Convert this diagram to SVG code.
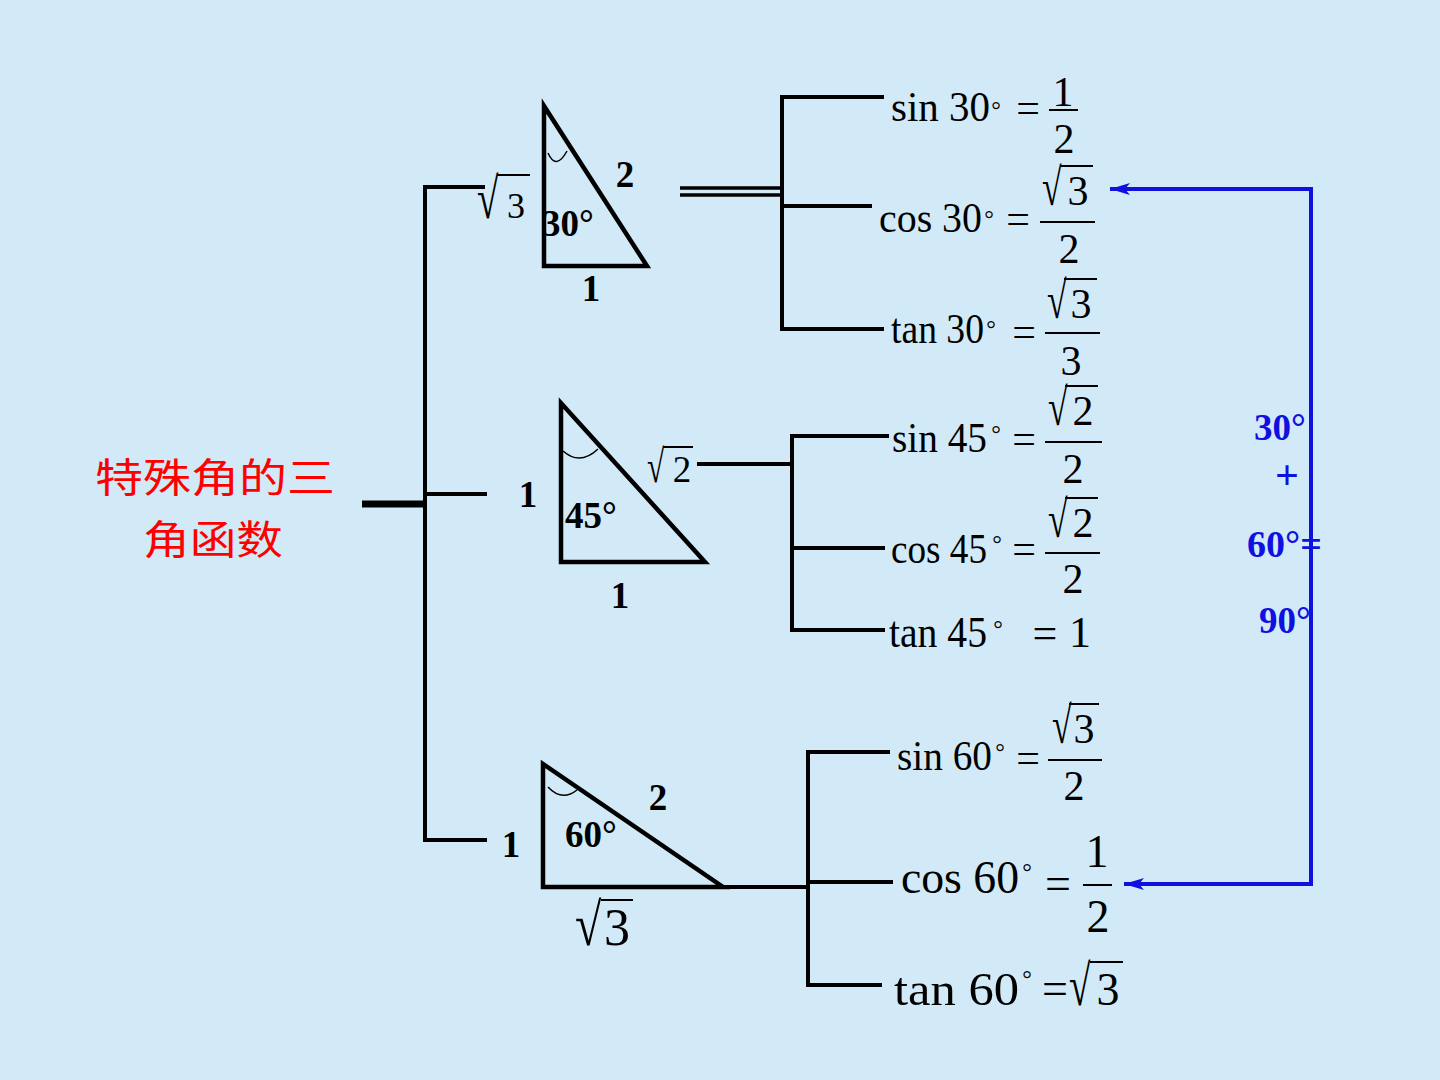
<svg xmlns="http://www.w3.org/2000/svg" width="1440" height="1080" viewBox="0 0 1440 1080">
<style>
.ln{stroke:#000;stroke-width:4;fill:none}
.tri{stroke:#000;stroke-width:4.5;fill:none;stroke-linejoin:miter}
.arc{stroke:#000;stroke-width:1.5;fill:none}
.bar{stroke:#000;stroke-width:2}
.t{font-family:"Liberation Serif","Times New Roman",serif;fill:#000;font-size:42px}
.m{text-anchor:middle}
.bd{font-weight:bold;font-size:37px}
.dg{font-size:24px;text-anchor:middle}
.bl{font-family:"Liberation Serif","Times New Roman",serif;fill:#1010e0;font-weight:bold;font-size:37px}
.cn{font-family:"Noto Sans CJK SC","Noto Sans",sans-serif;fill:#ff0000;font-size:40px;font-weight:normal}
.blue{stroke:#1010e0;stroke-width:4;fill:none}
</style>
<defs>
<marker id="ah" markerWidth="22" markerHeight="12" refX="20" refY="6" orient="auto" markerUnits="userSpaceOnUse">
<path d="M0,0 L20,6 L0,12 L5,6 z" fill="#1010e0"/>
</marker>
</defs>
<rect width="1440" height="1080" fill="#d2eaf7"/>

<g id="title">
<text class="cn" x="95" y="492" textLength="240" lengthAdjust="spacingAndGlyphs">特殊角的三</text>
<text class="cn" x="143" y="554" textLength="140" lengthAdjust="spacingAndGlyphs">角函数</text>
</g>

<g id="connectors">
<path class="ln" d="M362,504 H427" style="stroke-width:7"/>
<path class="ln" d="M485,187 H425 V840 H487 M425,494 H487"/>
<path class="ln" d="M680,188 H782 M680,195 H782" style="stroke-width:3.5"/>
<path class="ln" d="M884,97 H782 V329 H884 M782,206 H872"/>
<path class="ln" d="M697,464 H792 M889,436 H792 V630 H885 M792,548 H885"/>
<path class="ln" d="M723,887 H808 M890,752 H808 V985 H882 M808,882 H893"/>
<path class="blue" d="M1311,189 V884"/>
<path class="blue" d="M1313,189 H1110" marker-end="url(#ah)"/>
<path class="blue" d="M1313,884 H1124" marker-end="url(#ah)"/>
</g>

<g id="tri30">
<polygon class="tri" points="544,106 544,266 647,266"/>
<path class="arc" d="M548,153 Q556,171 567,151"/>
<text class="t bd m" x="625" y="187">2</text>
<text class="t bd" x="542" y="236">30°</text>
<text class="t bd m" x="591" y="301">1</text>
<text class="t" style="font-size:46px" transform="translate(477,218) scale(0.85,1.25)">√</text>
<text class="t m" x="516" y="218" style="font-size:36px">3</text>
<line class="bar" x1="497" y1="175" x2="530" y2="175"/>
</g>

<g id="tri45">
<polygon class="tri" points="561,403 561,562 705,562"/>
<path class="arc" d="M563,451 Q580,466 598,449"/>
<text class="t bd m" x="528" y="507">1</text>
<text class="t bd" x="565" y="528">45°</text>
<text class="t bd m" x="620" y="608">1</text>
<text class="t" style="font-size:37px" transform="translate(647,482) scale(0.85,1.25)">√</text>
<text class="t m" x="682" y="482" style="font-size:37px">2</text>
<line class="bar" x1="663" y1="447" x2="693" y2="447"/>
</g>

<g id="tri60">
<polygon class="tri" points="543,764 543,887 723,887"/>
<path class="arc" d="M548,787 Q562,802 577,790"/>
<text class="t bd m" x="658" y="810">2</text>
<text class="t bd" x="565" y="847">60°</text>
<text class="t bd m" x="511" y="857">1</text>
<text class="t" style="font-size:48px" transform="translate(575,945) scale(1,1.25)">√</text>
<text class="t m" x="617" y="945" style="font-size:52px">3</text>
<line class="bar" x1="601" y1="900" x2="633" y2="900"/>
</g>

<g id="sin30">
<text class="t" x="891" y="121" textLength="99" lengthAdjust="spacingAndGlyphs">sin 30</text>
<text class="t dg" x="996" y="118">°</text>
<text class="t m" x="1028" y="122">=</text>
<text class="t m" x="1063" y="106">1</text>
<line class="bar" x1="1049" y1="110" x2="1078" y2="110"/>
<text class="t m" x="1064" y="153">2</text>
</g>
<g id="cos30">
<text class="t" x="879" y="232" textLength="103" lengthAdjust="spacingAndGlyphs">cos 30</text>
<text class="t dg" x="989" y="227">°</text>
<text class="t m" x="1018" y="233">=</text>
<text class="t" transform="translate(1042,205) scale(0.85,1.25)">√</text>
<text class="t m" x="1078" y="205">3</text>
<line class="bar" x1="1060" y1="166" x2="1093" y2="166"/>
<line class="bar" x1="1040" y1="222" x2="1095" y2="222"/>
<text class="t m" x="1069" y="263">2</text>
</g>
<g id="tan30">
<text class="t" x="891" y="343" textLength="93" lengthAdjust="spacingAndGlyphs">tan 30</text>
<text class="t dg" x="991" y="337">°</text>
<text class="t m" x="1024" y="346">=</text>
<text class="t" transform="translate(1047,318) scale(0.85,1.25)">√</text>
<text class="t m" x="1081" y="318">3</text>
<line class="bar" x1="1064" y1="279" x2="1097" y2="279"/>
<line class="bar" x1="1045" y1="333" x2="1100" y2="333"/>
<text class="t m" x="1071" y="375">3</text>
</g>

<g id="sin45">
<text class="t" x="892" y="452" textLength="95" lengthAdjust="spacingAndGlyphs">sin 45</text>
<text class="t dg" x="996" y="442">°</text>
<text class="t m" x="1024" y="453">=</text>
<text class="t" transform="translate(1048,425) scale(0.85,1.25)">√</text>
<text class="t m" x="1083" y="425">2</text>
<line class="bar" x1="1065" y1="386" x2="1098" y2="386"/>
<line class="bar" x1="1045" y1="442" x2="1102" y2="442"/>
<text class="t m" x="1073" y="483">2</text>
</g>
<g id="cos45">
<text class="t" x="891" y="563" textLength="96" lengthAdjust="spacingAndGlyphs">cos 45</text>
<text class="t dg" x="997" y="552">°</text>
<text class="t m" x="1024" y="563">=</text>
<text class="t" transform="translate(1048,537) scale(0.85,1.25)">√</text>
<text class="t m" x="1083" y="537">2</text>
<line class="bar" x1="1065" y1="498" x2="1098" y2="498"/>
<line class="bar" x1="1045" y1="553" x2="1100" y2="553"/>
<text class="t m" x="1073" y="593">2</text>
</g>
<g id="tan45">
<text class="t" x="889" y="647" style="font-size:44px" textLength="98" lengthAdjust="spacingAndGlyphs">tan 45</text>
<text class="t dg" x="998" y="637">°</text>
<text class="t m" x="1045" y="648" style="font-size:44px">=</text>
<text class="t m" x="1080" y="647" style="font-size:44px">1</text>
</g>

<g id="sin60">
<text class="t" x="897" y="770" textLength="95" lengthAdjust="spacingAndGlyphs">sin 60</text>
<text class="t dg" x="1000" y="760">°</text>
<text class="t m" x="1028" y="772">=</text>
<text class="t" transform="translate(1052,743) scale(0.85,1.25)">√</text>
<text class="t m" x="1084" y="743">3</text>
<line class="bar" x1="1069" y1="704" x2="1099" y2="704"/>
<line class="bar" x1="1048" y1="760" x2="1102" y2="760"/>
<text class="t m" x="1074" y="800">2</text>
</g>
<g id="cos60">
<text class="t" x="901" y="893" style="font-size:46px" textLength="118" lengthAdjust="spacingAndGlyphs">cos 60</text>
<text class="t dg" x="1027" y="880">°</text>
<text class="t m" x="1058" y="899" style="font-size:46px">=</text>
<text class="t m" x="1097" y="867" style="font-size:46px">1</text>
<line class="bar" x1="1083" y1="885" x2="1112" y2="885"/>
<text class="t m" x="1098" y="932" style="font-size:46px">2</text>
</g>
<g id="tan60">
<text class="t" x="894" y="1005" style="font-size:46px" textLength="125" lengthAdjust="spacingAndGlyphs">tan 60</text>
<text class="t dg" x="1027" y="987">°</text>
<text class="t m" x="1055" y="1004" style="font-size:46px">=</text>
<text class="t" style="font-size:46px" transform="translate(1069,1005) scale(0.85,1.25)">√</text>
<text class="t m" x="1108" y="1005" style="font-size:46px">3</text>
<line class="bar" x1="1090" y1="962" x2="1123" y2="962"/>
</g>

<g id="note">
<text class="bl" x="1254" y="440">30°</text>
<text class="bl" x="1287" y="489" text-anchor="middle" style="font-size:42px">+</text>
<text class="bl" x="1247" y="557" style="font-size:38px">60°=</text>
<text class="bl" x="1259" y="633">90°</text>
</g>
</svg>
